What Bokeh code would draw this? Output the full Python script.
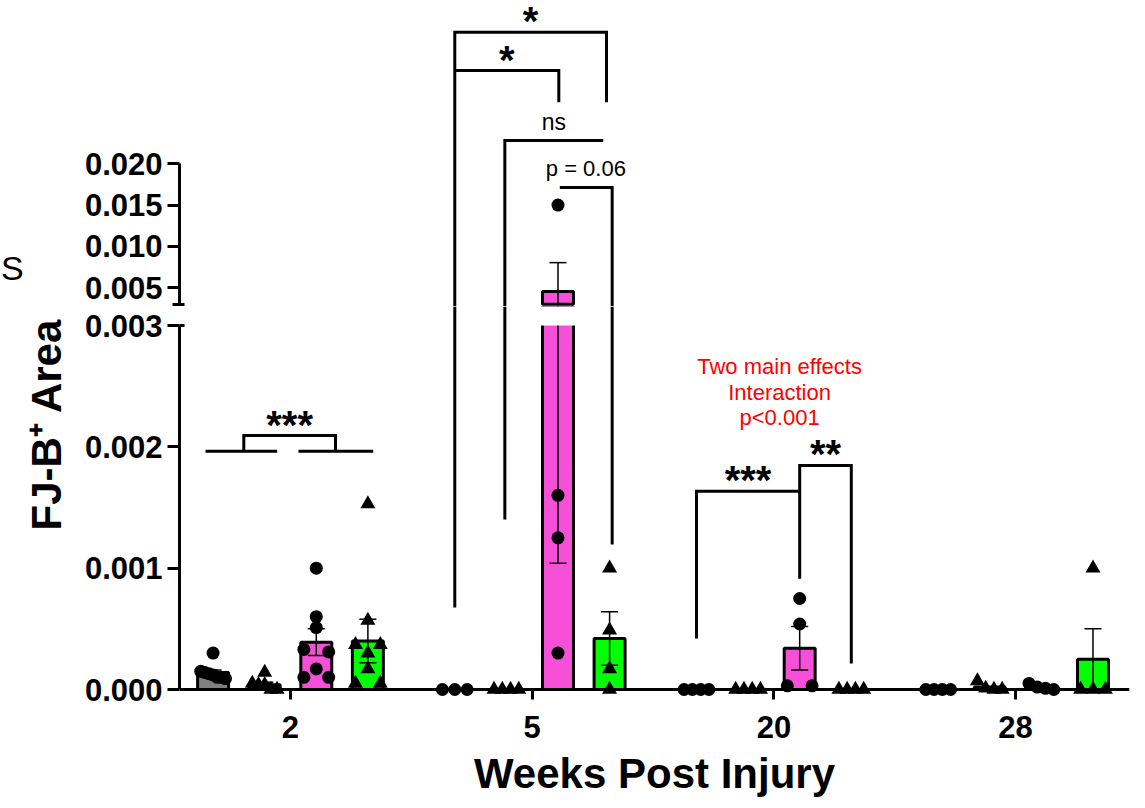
from bokeh.plotting import figure
from bokeh.models import Range1d, FixedTicker, LinearAxis, Title, Div, PrintfTickFormatter
from bokeh.layouts import column, row
from bokeh.embed import file_html
from bokeh.resources import INLINE
from bokeh.core.properties import value

# ---------------- data ----------------
weeks = ["2", "5", "20", "28"]
series_markers = ["circle", "triangle", "circle", "triangle"]
series_colors = ["#808080", "#808080", "#F650D8", "#00FF00"]

pts_2wk = [
    [0.00030, 0.00015, 0.00014, 0.00013, 0.00012, 0.00010, 0.00010, 0.00009],
    [0.00014, 0.00005, 0.00004, 0.00004, 0.0, 0.0],
    [0.00100, 0.00060, 0.00051, 0.00033, 0.00031, 0.00017, 0.00010, 0.00010],
    [0.00153, 0.00057, 0.00037, 0.00037, 0.00030, 0.00017, 0.00005, 0.00005],
]
pts_5wk = [
    [0.0, 0.0, 0.0],
    [0.0, 0.0, 0.0, 0.0],
    [0.0150, 0.00160, 0.00125, 0.00030],
    [0.00100, 0.00049, 0.00017, 0.0],
]
pts_20wk = [
    [0.0, 0.0, 0.0, 0.0],
    [0.0, 0.0, 0.0, 0.0],
    [0.00075, 0.00054, 0.00003, 0.00003],
    [0.0, 0.0, 0.0, 0.0],
]
pts_28wk = [
    [0.0, 0.0, 0.0, 0.0],
    [0.00007, 0.00001, 0.0, 0.0],
    [0.00005, 0.00002, 0.00001, 0.0],
    [0.00100, 0.0, 0.0, 0.0],
]
mean_2wk = [0.00014, 0.00004, 0.00039, 0.00040]
sem_2wk = [0.00002, 0.00002, 0.00011, 0.00018]
mean_5wk = [0.0, 0.0, 0.00454, 0.00042]
sem_5wk = [0.0, 0.0, 0.00350, 0.00022]
mean_20wk = [0.0, 0.0, 0.00034, 0.0]
sem_20wk = [0.0, 0.0, 0.00018, 0.0]
mean_28wk = [0.0, 0.00002, 0.00002, 0.00025]
sem_28wk = [0.0, 0.0, 0.0, 0.00025]

y_ticks_low = [0.0, 0.001, 0.002, 0.003]
y_ticks_up = [0.005, 0.010, 0.015, 0.020]
AXIS_BREAK = 0.003
UP_AXIS_END = 0.020

# ---------------- layout constants ----------------
FONT = "Liberation Sans"
BAR_STEP = 1 / 4.684
OFFS = [-1.5, -0.5, 0.5, 1.5]
BAR_W = 0.6 * BAR_STEP
CAP_HW = 0.165 * BAR_STEP
LOW_PX = 121333.0
UP_LO, UP_HI = 0.002734, 0.039749
LOW_LO, LOW_HI = -0.0000824, 0.0031566
W = 1132
EDGE_W = 26
XR = Range1d(-0.4592, 3.4713)

all_pts = [pts_2wk, pts_5wk, pts_20wk, pts_28wk]
all_mean = [mean_2wk, mean_5wk, mean_20wk, mean_28wk]
all_sem = [sem_2wk, sem_5wk, sem_20wk, sem_28wk]


def spread(vals, thr=8.0, total=0.48):
    """horizontal offsets (in bar steps) for points whose values nearly coincide"""
    offs = [0.0] * len(vals)
    order = sorted(range(len(vals)), key=lambda i: -vals[i])
    clusters, cur = [], [order[0]]
    for i in order[1:]:
        if (vals[cur[-1]] - vals[i]) * LOW_PX < thr:
            cur.append(i)
        else:
            clusters.append(cur)
            cur = [i]
    clusters.append(cur)
    for c in clusters:
        n = len(c)
        if n > 1:
            step = total / (n - 1)
            for k, i in enumerate(c):
                offs[i] = (k - (n - 1) / 2) * step
    return offs


def gx(g, b):
    return g + b * BAR_STEP


low_bars = dict(x=[], top=[], color=[])
up_bars = dict(x=[], top=[], color=[])
low_w = dict(x=[], y0=[], y1=[])
up_w = dict(x=[], y0=[], y1=[])
low_c = dict(x0=[], x1=[], y=[])
up_c = dict(x0=[], x1=[], y=[])
low_p = dict(x=[], y=[], marker=[], size=[])
up_p = dict(x=[], y=[], marker=[], size=[])

for g in range(4):
    for j in range(4):
        x = gx(g, OFFS[j])
        m, s = all_mean[g][j], all_sem[g][j]
        low_bars["x"].append(x); low_bars["top"].append(m); low_bars["color"].append(series_colors[j])
        if m > AXIS_BREAK:
            up_bars["x"].append(x); up_bars["top"].append(m); up_bars["color"].append(series_colors[j])
        if s > 0:
            lo, hi = m - s, m + s
            low_w["x"].append(x); low_w["y0"].append(lo); low_w["y1"].append(hi)
            for c in (lo, hi):
                if c <= AXIS_BREAK:
                    low_c["x0"].append(x - CAP_HW); low_c["x1"].append(x + CAP_HW); low_c["y"].append(c)
                else:
                    up_c["x0"].append(x - CAP_HW); up_c["x1"].append(x + CAP_HW); up_c["y"].append(c)
            if hi > AXIS_BREAK:
                up_w["x"].append(x); up_w["y0"].append(max(lo, AXIS_BREAK)); up_w["y1"].append(hi)
        vals = all_pts[g][j]
        for v, o in zip(vals, spread(vals)):
            d = low_p if v <= AXIS_BREAK else up_p
            d["x"].append(x + o * BAR_STEP)
            d["y"].append(v)
            d["marker"].append(series_markers[j])
            d["size"].append(13 if series_markers[j] == "circle" else 15)

# significance brackets (annotation positions)
up_lines_x = [
    [gx(1, -1.5), gx(1, -1.5), gx(1, 1.44), gx(1, 1.44)],
    [gx(1, -1.5), gx(1, 0.516), gx(1, 0.516)],
    [gx(1, -0.53), gx(1, -0.53), gx(1, 1.376)],
    [gx(1, 0.535), gx(1, 1.55), gx(1, 1.55)],
]
up_lines_y = [
    [UP_LO, 0.035914, 0.035914, 0.027447],
    [0.031281, 0.031281, 0.027447],
    [UP_LO, 0.022814, 0.022814],
    [0.017141, 0.017141, UP_LO],
]
low_lines_x = [
    [gx(0, -1.647), gx(0, -0.258)],
    [gx(0, 0.155), gx(0, 1.603)],
    [gx(0, -0.905), gx(0, -0.905), gx(0, 0.872), gx(0, 0.872)],
    [gx(1, -1.5), gx(1, -1.5)],
    [gx(1, -0.53), gx(1, -0.53)],
    [gx(1, 1.55), gx(1, 1.55)],
    [gx(2, -1.5), gx(2, -1.5), gx(2, 0.5)],
    [gx(2, 0.5), gx(2, 0.5), gx(2, 1.5), gx(2, 1.5)],
]
low_lines_y = [
    [0.001964, 0.001964],
    [0.001964, 0.001964],
    [0.001964, 0.002093, 0.002093, 0.001964],
    [0.000676, LOW_HI],
    [0.001401, LOW_HI],
    [0.001195, LOW_HI],
    [0.000420, 0.001634, 0.001634],
    [0.000912, 0.001846, 0.001846, 0.000214],
]
low_star_text = ["***", "***", "**"]
low_star_x = [gx(0, -0.017), gx(2, -0.5), gx(2, 1.0)]
low_star_y = [0.002184, 0.001725, 0.001937]
up_star_text = ["*", "*"]
up_star_x = [gx(1, -0.03), gx(1, -0.49)]
up_star_y = [0.037245, 0.032612]
red_text = ["Two main effects", "Interaction", "p<0.001"]
red_y = [0.002662, 0.002448, 0.002242]

# ---------------- figures ----------------
common = dict(x_range=XR, toolbar_location=None, output_backend="svg", title=None,
              min_border_right=3, outline_line_color=None,
              background_fill_color="white", border_fill_color="white")
up = figure(width=W - EDGE_W, height=306, y_range=Range1d(UP_LO, UP_HI), x_axis_location=None,
            min_border_left=179 - EDGE_W, min_border_top=0, min_border_bottom=0, **common)
low = figure(width=W, height=502, y_range=Range1d(LOW_LO, LOW_HI), min_border_left=179,
             min_border_top=0, min_border_bottom=109, **common)
for p in (up, low):
    p.grid.visible = False


def style_axis(ax):
    ax.axis_line_width = 3
    ax.axis_line_color = "black"
    ax.major_tick_line_width = 3
    ax.minor_tick_line_width = 3
    ax.major_tick_line_color = "black"
    ax.minor_tick_line_color = "black"
    ax.major_tick_in = 0
    ax.major_tick_out = 12
    ax.major_label_text_font = FONT
    ax.major_label_text_font_size = "31px"
    ax.major_label_text_font_style = "bold"
    ax.major_label_text_color = "black"


ya = up.yaxis[0]
style_axis(ya)
ya.bounds = (AXIS_BREAK, UP_AXIS_END)
ya.ticker = FixedTicker(ticks=y_ticks_up, minor_ticks=[AXIS_BREAK])
ya.formatter = PrintfTickFormatter(format="%.3f")
ya.minor_tick_in = 5
ya.minor_tick_out = 7
ya.major_label_standoff = 5

yl = low.yaxis[0]
style_axis(yl)
yl.bounds = (0, AXIS_BREAK)
yl.ticker = FixedTicker(ticks=y_ticks_low, minor_ticks=[AXIS_BREAK])
yl.formatter = PrintfTickFormatter(format="%.3f")
yl.minor_tick_in = 5
yl.minor_tick_out = 0
yl.major_label_standoff = 5

# x axis line and tick marks sit at y = 0 (tick marks as minor ticks, so no label texts)
xa = low.xaxis[0]
style_axis(xa)
xa.fixed_location = 0
xa.ticker = FixedTicker(ticks=[], minor_ticks=[0, 1, 2, 3])
xa.major_tick_out = 0
xa.minor_tick_in = 0
xa.minor_tick_out = 11

# x tick labels and axis title
xlab = LinearAxis(ticker=FixedTicker(ticks=[0, 1, 2, 3], minor_ticks=[]),
                  major_label_overrides={i: w for i, w in enumerate(weeks)},
                  major_label_text_font=FONT, major_label_text_font_size="31px",
                  major_label_text_font_style="bold", major_label_text_color="black",
                  major_label_standoff=16,
                  axis_label="Weeks Post Injury",
                  axis_label_text_font=FONT, axis_label_text_font_size="42px",
                  axis_label_text_font_style="bold", axis_label_text_color="black",
                  axis_label_standoff=9, axis_line_color=None, major_tick_line_color=None,
                  minor_tick_line_color=None, major_tick_out=0, minor_tick_out=0,
                  major_tick_in=0, minor_tick_in=0)
low.add_layout(xlab, "below")

low.add_layout(Title(text="FJ-B\u207a Area", align="left", offset=169, standoff=24,
                     text_font=FONT, text_font_size="42px", text_font_style="bold",
                     text_color="black"), "left")

# letter at the far left edge of the reference
edge = Div(text="S", width=EDGE_W, height=306, margin=0,
           styles={"font-family": FONT, "font-size": "34px", "color": "black",
                   "padding-top": "251px", "padding-left": "1px", "line-height": "1",
                   "white-space": "nowrap"})

# lower panel marks
low.vbar(x=low_bars["x"], top=low_bars["top"], bottom=0, width=BAR_W,
         fill_color=low_bars["color"], line_color="black", line_width=3)
low.segment(x0=low_w["x"], y0=low_w["y0"], x1=low_w["x"], y1=low_w["y1"], line_color="black", line_width=1.5)
low.segment(x0=low_c["x0"], y0=low_c["y"], x1=low_c["x1"], y1=low_c["y"], line_color="black", line_width=1.5)
low.quad(left=[XR.start], right=[XR.end], bottom=[AXIS_BREAK], top=[LOW_HI], fill_color="white", line_color=None)
low.scatter(x=low_p["x"], y=low_p["y"], marker=low_p["marker"], size=low_p["size"],
            fill_color="black", line_color=None)
low.multi_line(xs=low_lines_x, ys=low_lines_y, line_color="black", line_width=3, line_join="miter")
low.text(x=low_star_x, y=low_star_y, text=low_star_text, text_font=value(FONT), text_font_size="40px",
         text_font_style="bold", text_align="center", text_baseline="alphabetic", text_color="black")
low.text(x=[gx(2, 0.11)] * 3, y=red_y, text=red_text, text_font=value(FONT), text_font_size="22px",
         text_align="center", text_baseline="alphabetic", text_color="#FF0000")

# upper panel marks
up.vbar(x=up_bars["x"], top=up_bars["top"], bottom=AXIS_BREAK, width=BAR_W,
        fill_color=up_bars["color"], line_color="black", line_width=3)
up.segment(x0=up_w["x"], y0=up_w["y0"], x1=up_w["x"], y1=up_w["y1"], line_color="black", line_width=1.5)
up.segment(x0=up_c["x0"], y0=up_c["y"], x1=up_c["x1"], y1=up_c["y"], line_color="black", line_width=1.5)
up.scatter(x=up_p["x"], y=up_p["y"], marker=up_p["marker"], size=up_p["size"],
           fill_color="black", line_color=None)
up.multi_line(xs=up_lines_x, ys=up_lines_y, line_color="black", line_width=3, line_join="miter")
up.text(x=up_star_x, y=up_star_y, text=up_star_text, text_font=value(FONT), text_font_size="40px",
        text_font_style="bold", text_align="center", text_baseline="alphabetic", text_color="black")
up.text(x=[gx(1, 0.42)], y=[0.025112], text=["ns"], text_font=value(FONT), text_font_size="23px",
        text_align="center", text_baseline="alphabetic", text_color="black")
up.text(x=[gx(1, 1.04)], y=[0.019427], text=["p = 0.06"], text_font=value(FONT), text_font_size="22px",
        text_align="center", text_baseline="alphabetic", text_color="black")

layout = column(row(edge, up), low)
open("out.html", "w").write(file_html(layout, INLINE))
